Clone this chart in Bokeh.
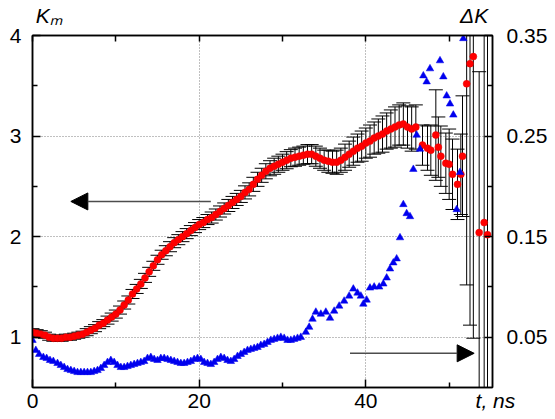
from bokeh.plotting import figure
from bokeh.models import (Range1d, LinearAxis, FixedTicker, Arrow, NormalHead,
                          ColumnDataSource)
from bokeh.embed import file_html
from bokeh.resources import INLINE

# ---------------- data ----------------
t_km = [0.0, 0.5, 1.0, 1.5, 2.0, 2.5, 3.0, 3.5, 4.0, 4.5,
        5.0, 5.5, 6.0, 6.5, 7.0, 7.5, 8.0, 8.5, 9.0, 9.5,
        10.0, 10.5, 11.0, 11.5, 12.0, 12.5, 13.0, 13.5, 14.0, 14.5,
        15.0, 15.5, 16.0, 16.5, 17.0, 17.5, 18.0, 18.5, 19.0, 19.5,
        20.0, 20.5, 21.0, 21.5, 22.0, 22.5, 23.0, 23.5, 24.0, 24.5,
        25.0, 25.5, 26.0, 26.5, 27.0, 27.5, 28.0, 28.5, 29.0, 29.5,
        30.0, 30.5, 31.0, 31.5, 32.0, 32.5, 33.0, 33.5, 34.0, 34.5,
        35.0, 35.5, 36.0, 36.5, 37.0, 37.5, 38.0, 38.5, 39.0, 39.5,
        40.0, 40.5, 41.0, 41.5, 42.0, 42.5, 43.0, 43.5, 44.0, 44.5,
        45.0, 45.5, 46.0,
        46.8, 47.4, 47.8, 48.4, 48.7, 49.0, 49.6, 50.0, 50.4, 51.0,
        51.4, 51.6, 52.1, 52.5, 52.9, 53.6, 54.2, 54.6]
km = [1.05, 1.04, 1.03, 1.02, 1.00, 0.99, 0.99, 0.99, 1.00, 1.00,
      1.01, 1.02, 1.03, 1.05, 1.07, 1.09, 1.12, 1.14, 1.17, 1.20,
      1.23, 1.27, 1.32, 1.37, 1.43, 1.48, 1.53, 1.59, 1.65, 1.71,
      1.77, 1.82, 1.86, 1.90, 1.94, 1.97, 2.00, 2.03, 2.06, 2.09,
      2.12, 2.14, 2.17, 2.19, 2.22, 2.25, 2.28, 2.31, 2.34, 2.37,
      2.40, 2.44, 2.47, 2.52, 2.57, 2.61, 2.65, 2.68, 2.70, 2.72,
      2.74, 2.76, 2.78, 2.79, 2.80, 2.81, 2.82, 2.82, 2.80, 2.78,
      2.76, 2.75, 2.74, 2.74, 2.76, 2.79, 2.82, 2.85, 2.88, 2.90,
      2.93, 2.95, 2.98, 3.00, 3.02, 3.05, 3.07, 3.09, 3.11, 3.12,
      3.09, 3.07, 3.09,
      2.91, 2.88, 2.86, 3.01, 2.89, 2.80, 2.73, 2.72, 2.62, 2.52,
      2.62, 2.80, 3.52, 3.72, 3.79, 2.04, 2.14, 2.02]
km_err = [0.035, 0.035, 0.035, 0.03, 0.03, 0.03, 0.03, 0.03, 0.03, 0.03,
          0.03, 0.03, 0.03, 0.035, 0.035, 0.035, 0.035, 0.035, 0.04, 0.04,
          0.04, 0.04, 0.04, 0.04, 0.045, 0.045, 0.045, 0.045, 0.045, 0.045,
          0.045, 0.045, 0.05, 0.05, 0.05, 0.05, 0.05, 0.05, 0.05, 0.05,
          0.05, 0.05, 0.05, 0.055, 0.055, 0.055, 0.055, 0.06, 0.06, 0.06,
          0.06, 0.065, 0.065, 0.07, 0.07, 0.07, 0.075, 0.075, 0.08, 0.08,
          0.08, 0.085, 0.085, 0.09, 0.09, 0.09, 0.095, 0.095, 0.10, 0.10,
          0.10, 0.11, 0.11, 0.12, 0.12, 0.13, 0.13, 0.14, 0.14, 0.15,
          0.15, 0.16, 0.16, 0.17, 0.18, 0.18, 0.19, 0.20, 0.20, 0.21,
          0.21, 0.22, 0.22,
          0.20, 0.22, 0.25, 0.45, 0.30, 0.30, 0.30, 0.35, 0.35, 0.35,
          0.40, 0.60, 2.0, 2.6, 2.8, 1.6, 2.4, 2.0]

t_dk = [0.0, 0.4, 0.8, 1.3, 1.7, 2.1, 2.5, 3.0, 3.4, 3.8,
        4.2, 4.6, 5.0, 5.4, 5.8, 6.2, 6.6, 7.0, 7.4, 7.8,
        8.2, 8.6, 9.0, 9.4, 9.8, 10.2, 10.6, 11.0, 11.4, 11.8,
        12.2, 12.6, 13.0, 13.4, 13.8, 14.2, 14.6, 15.0, 15.4, 15.8,
        16.2, 16.6, 17.0, 17.4, 17.8, 18.2, 18.6, 19.0, 19.4, 19.8,
        20.2, 20.6, 21.0, 21.4, 21.8, 22.2, 22.6, 23.0, 23.4, 23.8,
        24.2, 24.6, 25.0, 25.4, 25.8, 26.2, 26.6, 27.0, 27.4, 27.8,
        28.2, 28.6, 29.0, 29.4, 29.8, 30.2, 30.6, 31.0, 31.4, 31.8,
        32.2, 32.8, 33.2, 33.6, 34.0, 34.6, 35.2, 35.7, 36.2, 36.8,
        37.4, 38.0, 38.5, 39.0, 39.4, 39.7, 40.1, 40.5, 41.0, 41.6,
        42.1, 42.5, 42.9, 43.3, 43.7, 44.1, 44.5, 44.9, 45.3, 45.7,
        46.1, 46.5, 46.9, 47.3, 47.7, 48.9, 49.3, 49.7, 50.1, 50.5,
        50.9, 51.3, 51.7]
dk = [0.047, 0.037, 0.033, 0.030, 0.029, 0.027, 0.026, 0.024, 0.022, 0.020,
      0.018, 0.017, 0.016, 0.015, 0.015, 0.015, 0.015, 0.015, 0.016, 0.017,
      0.019, 0.022, 0.025, 0.027, 0.025, 0.022, 0.020, 0.020, 0.021, 0.022,
      0.023, 0.024, 0.025, 0.026, 0.029, 0.030, 0.028, 0.027, 0.029, 0.029,
      0.028, 0.027, 0.026, 0.025, 0.024, 0.024, 0.025, 0.026, 0.028, 0.029,
      0.028, 0.025, 0.024, 0.023, 0.025, 0.028, 0.030, 0.029, 0.027, 0.026,
      0.028, 0.031, 0.033, 0.035, 0.037, 0.038, 0.039, 0.040, 0.042, 0.043,
      0.045, 0.047, 0.048, 0.049, 0.050, 0.049, 0.047, 0.047, 0.048, 0.049,
      0.050, 0.055, 0.060, 0.068, 0.075, 0.073, 0.075, 0.069, 0.076, 0.081,
      0.086, 0.091, 0.098, 0.094, 0.091, 0.083, 0.087, 0.099, 0.100, 0.100,
      0.103, 0.109, 0.118, 0.124, 0.128, 0.149, 0.182, 0.173, 0.170, 0.217,
      0.251, 0.237, 0.310, 0.304, 0.317, 0.325, 0.309, 0.290, 0.282, 0.271,
      0.177, 0.214, 0.347]

x_ticks = [0, 20, 40]
x_minor = [10, 30, 50]
k_ticks = [1, 2, 3, 4]
k_minor = [1.5, 2.5, 3.5]
dk_ticks = [0.05, 0.15, 0.25, 0.35]
dk_minor = [0.10, 0.20, 0.30]

# axis titles
km_title = "K\u2098"       # K with subscript m
dk_title = "ΔK"
t_title = "t, ns"

FONT = "Liberation Sans"
W, H = 554, 418
FRAME_L, FRAME_T, FRAME_R, FRAME_B = 32, 33, 492, 387

# ---------------- figure ----------------
p = figure(width=W, height=H, output_backend="svg", toolbar_location=None,
           x_range=Range1d(0, 55.2), y_range=Range1d(0.5, 4.0),
           min_border_left=FRAME_L, min_border_right=W - FRAME_R,
           min_border_top=FRAME_T, min_border_bottom=H - FRAME_B,
           background_fill_color="white", border_fill_color="white")
p.extra_y_ranges = {"dk": Range1d(0.0, 0.35)}
p.outline_line_color = "black"
p.outline_line_width = 1.5


def style_axis(ax, ticks, minor, standoff=5):
    ax.ticker = FixedTicker(ticks=ticks, minor_ticks=minor)
    ax.axis_line_color = "black"
    ax.axis_line_width = 1.5
    ax.major_tick_in = 8
    ax.major_tick_out = 0
    ax.minor_tick_in = 5
    ax.minor_tick_out = 0
    ax.major_tick_line_color = "black"
    ax.major_tick_line_width = 1.5
    ax.minor_tick_line_color = "black"
    ax.minor_tick_line_width = 1.5
    ax.major_label_text_font = FONT
    ax.major_label_text_color = "black"
    ax.major_label_text_font_size = "21px"
    ax.major_label_standoff = standoff


bottom = p.xaxis[0]
style_axis(bottom, x_ticks, x_minor, 6)
bottom.axis_label = "\u00a0" + t_title
bottom.axis_label_text_font = FONT
bottom.axis_label_text_font_style = "italic"
bottom.axis_label_text_font_size = "21px"
bottom.axis_label_text_color = "black"
bottom.axis_label_standoff = -22
if "axis_label_align" in bottom.properties():
    bottom.axis_label_align = "end"

style_axis(p.yaxis[0], k_ticks, k_minor, 11)

# top axis: plain ticks at every 10 ns, and the two axis titles as its labels
top = LinearAxis()
style_axis(top, [2, 53], [0, 10, 20, 30, 40, 50], 9)
top.major_tick_in = 0
top.major_tick_line_color = None
top.minor_tick_in = 6
top.major_label_overrides = {2: km_title, 53: dk_title}
top.major_label_text_font_style = "italic"
top.major_label_text_font_size = "21px"
p.add_layout(top, "above")

right = LinearAxis(y_range_name="dk")
style_axis(right, dk_ticks, dk_minor, 14)
p.add_layout(right, "right")

p.xgrid.ticker = FixedTicker(ticks=[20, 40])
p.ygrid.ticker = FixedTicker(ticks=[1, 2, 3])
for g in (p.xgrid[0], p.ygrid[0]):
    g.grid_line_color = "#808080"
    g.grid_line_dash = "1 2"
    g.grid_line_width = 1

# ---------------- glyphs ----------------
src = ColumnDataSource(dict(
    t=t_km, k=km,
    lo=[k - e for k, e in zip(km, km_err)],
    hi=[k + e for k, e in zip(km, km_err)],
))
p.segment(x0="t", y0="lo", x1="t", y1="hi", source=src,
          line_color="black", line_width=1)
p.scatter(x="t", y="hi", source=src, marker="dash", size=14,
          line_color="black", line_width=1)
p.scatter(x="t", y="lo", source=src, marker="dash", size=14,
          line_color="black", line_width=1)
p.scatter(x="t", y="k", source=src, marker="circle", size=7,
          fill_color="#ff0000", line_color="#e80000", line_width=0.5)

p.scatter(x=t_dk, y=dk, y_range_name="dk", marker="triangle", size=7.5,
          fill_color="#0000ee", line_color="#0000ee", line_width=0.5)

# ---------------- arrows ----------------
p.add_layout(Arrow(end=NormalHead(size=17, fill_color="black", line_color="black"),
                   x_start=21.4, y_start=2.35, x_end=4.6, y_end=2.35,
                   line_color="#4d4d4d", line_width=1.5))
p.add_layout(Arrow(end=NormalHead(size=17, fill_color="black", line_color="black"),
                   x_start=38.1, y_start=0.84, x_end=53.0, y_end=0.84,
                   line_color="#4d4d4d", line_width=1.5))

open("out.html", "w").write(file_html(p, INLINE))
